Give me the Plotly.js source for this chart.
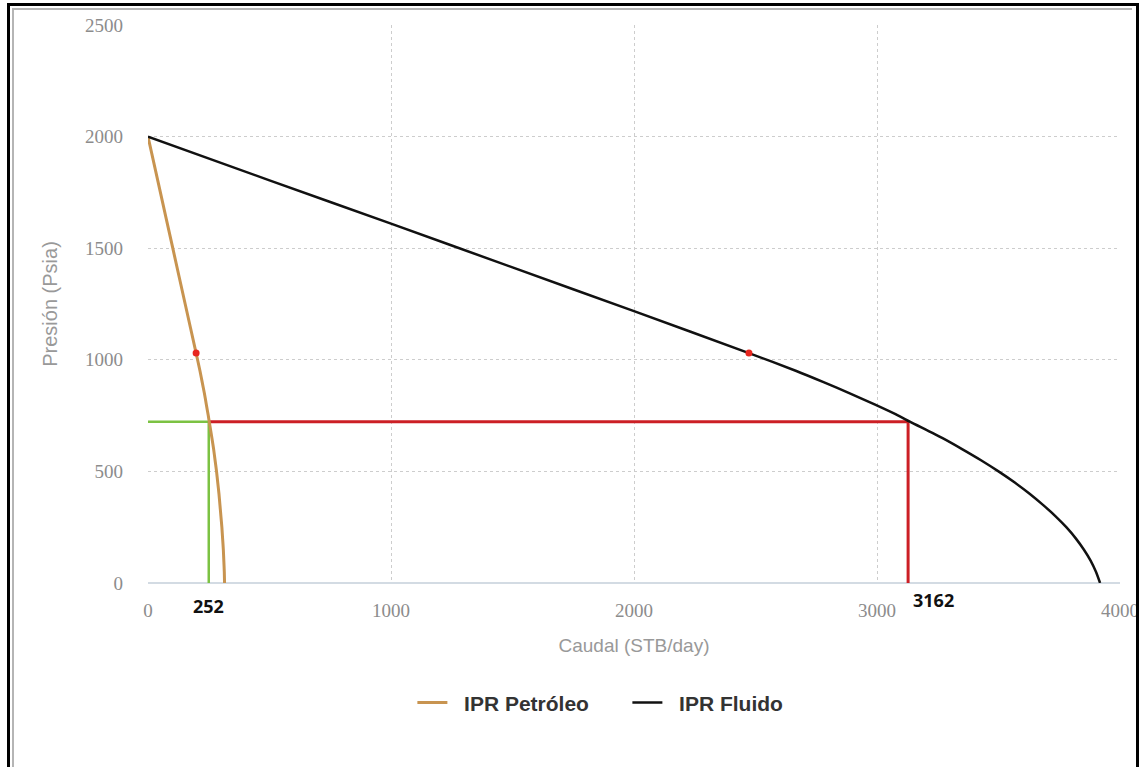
<!DOCTYPE html>
<html>
<head>
<meta charset="utf-8">
<script src="https://cdn.plot.ly/plotly-3.0.1.min.js"></script>
<style>
  html, body { margin:0; padding:0; background:#fff; }
  #wrap { position:relative; width:1140px; height:767px; overflow:hidden; }
  #chart { position:absolute; left:0; top:0; width:1140px; height:767px; }
  #frameOuter { position:absolute; left:7px; top:3px; width:1126px; height:780px; border:3px solid #000; pointer-events:none; }
  #frameInner { position:absolute; left:12px; top:8px; width:1118px; height:780px; border:2px solid #b5b5b5; border-right:none; pointer-events:none; }
</style>
</head>
<body>
<div id="wrap">
  <div id="chart"></div>
  <div id="frameOuter"></div>
  <div id="frameInner"></div>
</div>
<script>
// IPR Petróleo (oil) — caudal (STB/day) vs presión (psia)
const oilQ = [0, 51, 102, 153, 198, 214, 223, 232, 240, 248, 252, 263, 270, 276, 282, 287, 292, 296, 300, 304, 307, 310, 312, 314, 315];
const oilP = [2000, 1750, 1500, 1250, 1030, 950, 900, 850, 800, 750, 723, 650, 600, 550, 500, 450, 400, 350, 300, 250, 200, 150, 100, 50, 0];

// IPR Fluido (total fluid)
const fluidQ = [0, 500, 1000, 1500, 2000, 2473, 2668, 2780, 2888, 2990, 3088, 3135, 3268, 3350, 3428, 3500, 3567, 3628, 3683, 3734, 3779, 3818, 3851, 3879, 3901, 3918];
const fluidP = [2000, 1804, 1610, 1414, 1218, 1030, 950, 900, 850, 800, 750, 723, 650, 600, 550, 500, 450, 400, 350, 300, 250, 200, 150, 100, 50, 0];

// Bubble-point markers
const markQ = [198, 2473];
const markP = [1030, 1030];

// Operating point lines
const pOper = 723;
const qOil = 250;
const qFluid = 3128;
const labelOil = "252";
const labelFluid = "3162";

const seriesNames = ['IPR Petróleo', 'IPR Fluido'];

const xTicks = [0, 1000, 2000, 3000, 4000];
const yTicks = [0, 500, 1000, 1500, 2000, 2500];

const pad = '\u00a0\u00a0';

const traces = [
  { x: [0, qOil], y: [pOper, pOper], mode: 'lines', line: {color: '#7cc243', width: 2.5}, showlegend: false, hoverinfo: 'skip' },
  { x: [qOil, qOil], y: [0, pOper], mode: 'lines', line: {color: '#7cc243', width: 2.5}, showlegend: false, hoverinfo: 'skip' },
  { x: [qOil, qFluid], y: [pOper, pOper], mode: 'lines', line: {color: '#cc1f25', width: 3}, showlegend: false, hoverinfo: 'skip' },
  { x: [qFluid, qFluid], y: [0, pOper], mode: 'lines', line: {color: '#cc1f25', width: 3}, showlegend: false, hoverinfo: 'skip' },
  { x: oilQ, y: oilP, mode: 'lines', name: pad + seriesNames[0], line: {color: '#c89450', width: 3, shape: 'spline', smoothing: 0.6} },
  { x: fluidQ, y: fluidP, mode: 'lines', name: pad + seriesNames[1], line: {color: '#111111', width: 2.5, shape: 'spline', smoothing: 0.6} },
  { x: markQ, y: markP, mode: 'markers', marker: {color: '#e8261f', size: 7}, showlegend: false }
];

const layout = {
  width: 1140, height: 767,
  margin: {l: 148, r: 20, t: 25, b: 184},
  paper_bgcolor: '#ffffff', plot_bgcolor: '#ffffff',
  font: {family: 'Liberation Sans, Arial, sans-serif', color: '#8c8c8c'},
  xaxis: {
    range: [0, 4000], tickvals: xTicks, ticktext: xTicks.map(String),
    showgrid: true, gridcolor: '#cdcdcd', griddash: 'dot', gridwidth: 1,
    zeroline: false, showline: false, ticks: '',
    ticklabelstandoff: 14,
    tickfont: {family: 'Liberation Serif, serif', size: 19, color: '#8c8c8c'},
    title: {text: 'Caudal (STB/day)', font: {family: 'Liberation Sans, Arial, sans-serif', size: 19, color: '#999999'}, standoff: 18}
  },
  yaxis: {
    range: [0, 2500], tickvals: yTicks, ticktext: yTicks.map(String),
    showgrid: true, gridcolor: '#cdcdcd', griddash: 'dot', gridwidth: 1,
    zeroline: true, zerolinecolor: '#d3dbe3', zerolinewidth: 2,
    showline: false, ticks: '',
    ticklabelstandoff: 24,
    tickfont: {family: 'Liberation Serif, serif', size: 19, color: '#8c8c8c'},
    title: {text: 'Presión (Psia)', font: {family: 'Liberation Sans, Arial, sans-serif', size: 20, color: '#999999'}, standoff: 22}
  },
  legend: {
    orientation: 'h', x: 0.272, xanchor: 'left', y: -0.215, yanchor: 'middle',
    font: {family: 'Liberation Sans, Arial, sans-serif', size: 21, color: '#333333', weight: 'bold'},
    itemwidth: 30, entrywidth: 170, entrywidthmode: 'pixels', tracegroupgap: 0
  },
  annotations: [
    {x: qOil, y: 0, xref: 'x', yref: 'y', text: '<b>' + labelOil + '</b>', showarrow: false, yanchor: 'top', xanchor: 'center', yshift: -9,
     font: {family: 'Open Sans, sans-serif', size: 18, color: '#111111'}},
    {x: qFluid, y: 0, xref: 'x', yref: 'y', text: '<b>' + labelFluid + '</b>', showarrow: false, yanchor: 'top', xanchor: 'left', yshift: -3, xshift: 3,
     font: {family: 'Open Sans, sans-serif', size: 18, color: '#111111'}}
  ],
  showlegend: true
};

Plotly.newPlot('chart', traces, layout, {displayModeBar: false, staticPlot: true});
</script>
</body>
</html>
